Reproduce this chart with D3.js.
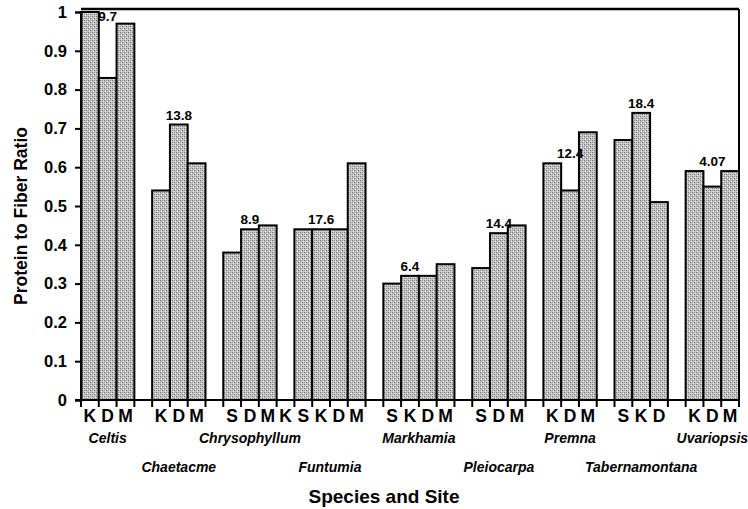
<!DOCTYPE html>
<html>
<head>
<meta charset="utf-8">
<script src="https://cdn.jsdelivr.net/npm/d3@7/dist/d3.min.js"></script>
<style>
  html, body { margin: 0; padding: 0; background: #fff; }
  svg { display: block; }
  text { font-family: "Liberation Sans", Arial, sans-serif; fill: #000; }
</style>
</head>
<body>
<div id="chart"></div>
<script>
// Protein-to-fiber ratio of leaves by tree species and site
const species = ["Celtis", "Chaetacme", "Chrysophyllum", "Funtumia", "Markhamia",
                 "Pleiocarpa", "Premna", "Tabernamontana", "Uvariopsis"];
const sites = [
  ["K", "D", "M"],
  ["K", "D", "M"],
  ["S", "D", "M"],
  ["S", "K", "D", "M"],
  ["S", "K", "D", "M"],
  ["S", "D", "M"],
  ["K", "D", "M"],
  ["S", "K", "D"],
  ["K", "D", "M"]
];
const ratios = [
  [1.00, 0.83, 0.97],
  [0.54, 0.71, 0.61],
  [0.38, 0.44, 0.45],
  [0.44, 0.44, 0.44, 0.61],
  [0.30, 0.32, 0.32, 0.35],
  [0.34, 0.43, 0.45],
  [0.61, 0.54, 0.69],
  [0.67, 0.74, 0.51],
  [0.59, 0.55, 0.59]
];
// number printed above each species group
const groupNotes = ["9.7", "13.8", "8.9", "17.6", "6.4", "14.4", "12.4", "18.4", "4.07"];
// category text of the empty slot after each group
const gapLabels = ["", "", "K", "", "", "", "", ""];
const yTicks = [0, 0.1, 0.2, 0.3, 0.4, 0.5, 0.6, 0.7, 0.8, 0.9, 1];

const W = 748, H = 509;
const plotL = 81, plotR = 739, plotB = 400, plotT = 12;

// flatten into slots: bars plus one empty slot between groups
const slots = [];
species.forEach((sp, g) => {
  sites[g].forEach((s, i) => slots.push({ group: g, site: s, value: ratios[g][i], idx: i }));
  if (g < species.length - 1) slots.push({ group: g, site: gapLabels[g], value: null, gap: true });
});
slots.forEach((d, i) => d.key = i);

const svg = d3.select("#chart").append("svg").attr("width", W).attr("height", H);

// stippled grey fill
const defs = svg.append("defs");
const pat = defs.append("pattern").attr("id", "stipple")
  .attr("patternUnits", "userSpaceOnUse").attr("width", 4).attr("height", 4);
pat.append("rect").attr("width", 4).attr("height", 4).attr("fill", "#c4c4c4");
[[0, 0, "#767676"], [2, 2, "#767676"], [2, 0, "#9e9e9e"], [0, 2, "#9e9e9e"], [1, 3, "#e8e8e8"], [3, 1, "#e8e8e8"]]
  .forEach(([px, py, c]) => pat.append("rect").attr("x", px).attr("y", py).attr("width", 1).attr("height", 1).attr("fill", c));

const x = d3.scaleBand().domain(slots.map(d => d.key)).range([plotL, plotR]).padding(0);
const y = d3.scaleLinear().domain([0, 1]).range([plotB, plotT]);

// frame on top and right
svg.append("line").attr("x1", plotL).attr("x2", plotR).attr("y1", 9).attr("y2", 9)
  .attr("stroke", "#000").attr("stroke-width", 2.5);
svg.append("line").attr("x1", plotR).attr("x2", plotR).attr("y1", 9).attr("y2", plotB)
  .attr("stroke", "#000").attr("stroke-width", 2);

// bars
const bars = slots.filter(d => !d.gap);
svg.append("g").selectAll("rect").data(bars).join("rect")
  .attr("x", d => x(d.key))
  .attr("y", d => y(d.value))
  .attr("width", x.bandwidth())
  .attr("height", d => y(0) - y(d.value))
  .attr("fill", "url(#stipple)")
  .attr("stroke", "#000")
  .attr("stroke-width", 2);

// y axis
const yAxis = d3.axisLeft(y).tickValues(yTicks).tickSize(6).tickPadding(8)
  .tickFormat(d => d === 0 || d === 1 ? String(d) : d3.format(".1f")(d));
const ya = svg.append("g").attr("transform", `translate(${plotL},0)`).call(yAxis);
ya.select(".domain").attr("stroke", "#000").attr("stroke-width", 2);
ya.selectAll(".tick line").attr("stroke", "#000").attr("stroke-width", 2);
ya.selectAll(".tick text").attr("font-size", 16.5).attr("font-weight", "bold")
  .attr("font-family", "Liberation Sans, Arial, sans-serif").attr("fill", "#000");

// x axis line and slot boundary ticks
svg.append("line").attr("x1", plotL - 6).attr("x2", plotR).attr("y1", plotB).attr("y2", plotB)
  .attr("stroke", "#000").attr("stroke-width", 2);
const bounds = slots.map(d => x(d.key)).concat([plotR]);
svg.append("g").selectAll("line").data(bounds).join("line")
  .attr("x1", d => d).attr("x2", d => d)
  .attr("y1", plotB).attr("y2", plotB + 7)
  .attr("stroke", "#000").attr("stroke-width", 2);

// site letters
svg.append("g").selectAll("text").data(slots.filter(d => d.site)).join("text")
  .attr("x", d => x(d.key) + x.bandwidth() / 2)
  .attr("y", 422)
  .attr("text-anchor", "middle")
  .attr("font-size", 17.5).attr("font-weight", "bold")
  .text(d => d.site);

// species names, alternating rows
const groupCenter = g => {
  const s = bars.filter(d => d.group === g);
  return (x(s[0].key) + x(s[s.length - 1].key) + x.bandwidth()) / 2;
};
svg.append("g").selectAll("text").data(species).join("text")
  .attr("x", (d, g) => groupCenter(g))
  .attr("y", (d, g) => g % 2 === 0 ? 443 : 472)
  .attr("text-anchor", "middle")
  .attr("font-size", 14).attr("font-weight", "bold").attr("font-style", "italic")
  .text(d => d);

// group notes above the second bar
svg.append("g").selectAll("text").data(groupNotes).join("text")
  .attr("x", (d, g) => {
    const s = bars.filter(b => b.group === g);
    return x(s[1].key) + x.bandwidth() / 2;
  })
  .attr("y", (d, g) => {
    const m = Math.max(ratios[g][0], ratios[g][1]);
    return y(m) < plotT + 5 ? plotT + 9 : y(m) - 5;
  })
  .attr("text-anchor", "middle")
  .attr("font-size", 13.5).attr("font-weight", "bold")
  .text(d => d);

// axis titles
svg.append("text")
  .attr("transform", `translate(27,${(plotT + plotB) / 2 + 10}) rotate(-90)`)
  .attr("text-anchor", "middle")
  .attr("font-size", 17.5).attr("font-weight", "bold")
  .text("Protein to Fiber Ratio");
svg.append("text")
  .attr("x", 384).attr("y", 503)
  .attr("text-anchor", "middle")
  .attr("font-size", 19).attr("font-weight", "bold")
  .text("Species and Site");
</script>
</body>
</html>
